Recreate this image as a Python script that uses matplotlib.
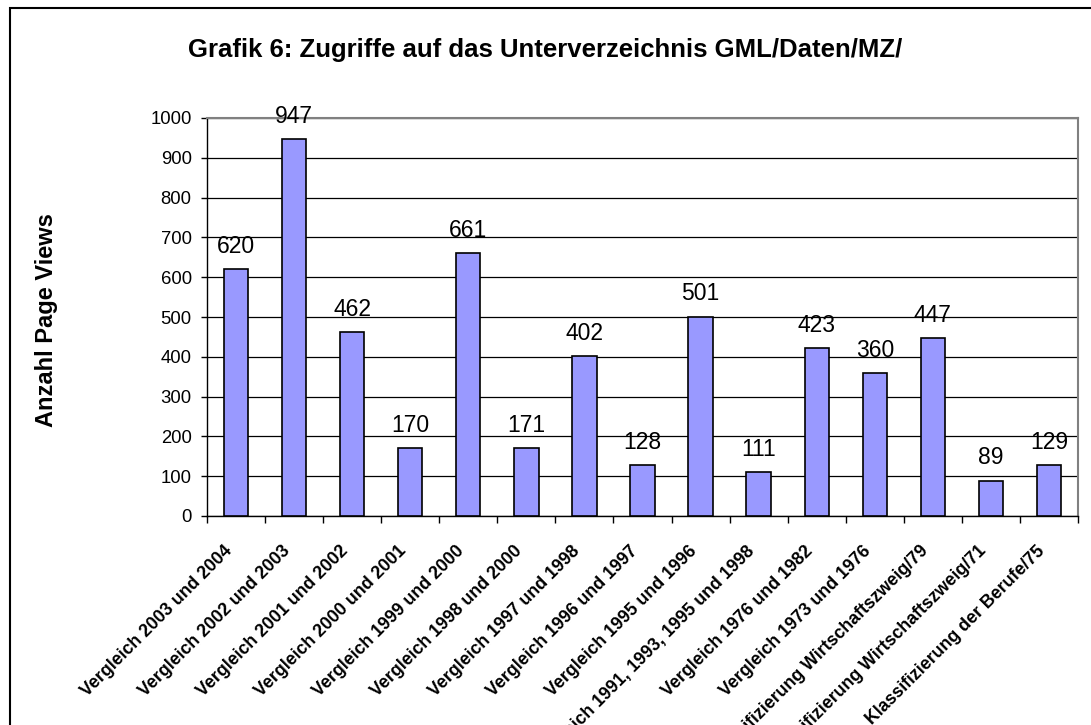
import matplotlib
matplotlib.use('Agg')
import matplotlib.pyplot as plt
from matplotlib.patches import Rectangle

plt.rcParams['font.family'] = ['Liberation Sans', 'DejaVu Sans']

# Data
categories = [
    'Vergleich 2003 und 2004',
    'Vergleich 2002 und 2003',
    'Vergleich 2001 und 2002',
    'Vergleich 2000 und 2001',
    'Vergleich 1999 und 2000',
    'Vergleich 1998 und 2000',
    'Vergleich 1997 und 1998',
    'Vergleich 1996 und 1997',
    'Vergleich 1995 und 1996',
    'Vergleich 1991, 1993, 1995 und 1998',
    'Vergleich 1976 und 1982',
    'Vergleich 1973 und 1976',
    'Klassifizierung Wirtschaftszweig/79',
    'Klassifizierung Wirtschaftszweig/71',
    'Klassifizierung der Berufe/75',
]
page_views = [620, 947, 462, 170, 661, 171, 402, 128, 501, 111, 423, 360, 447, 89, 129]
y_ticks = list(range(0, 1001, 100))

W, H = 1091, 725
fig = plt.figure(figsize=(W / 100, H / 100), dpi=100)

# outer chart frame (cut off at right/bottom as in the original)
fig.patches.append(Rectangle((10 / W, -0.1), 1.2, 1.1 - 8 / H, transform=fig.transFigure,
                             fill=False, edgecolor='black', linewidth=1.5))

ax = fig.add_axes([207 / W, 1 - 516 / H, (1078 - 207) / W, (516 - 118) / H])

x = list(range(len(categories)))
ax.bar(x, page_views, width=0.42, color='#9999FF', edgecolor='black', linewidth=1.2, zorder=3)

for xi, v in zip(x, page_views):
    ax.annotate(str(v), (xi, v), xytext=(0, 8), textcoords='offset points',
                ha='center', va='bottom', fontsize=16.5, zorder=4)

ax.set_xlim(-0.5, len(categories) - 0.5)
ax.set_ylim(0, 1000)
ax.set_yticks(y_ticks)
ax.tick_params(axis='y', labelsize=13.3, length=4, width=1, pad=7)
ax.yaxis.grid(True, color='black', linewidth=0.9, zorder=0)
ax.set_axisbelow(True)

# ticks between categories; labels end slightly left of the category centre
ax.set_xticks([i - 0.5 for i in range(len(categories) + 1)])
ax.set_xticklabels([])
ax.set_xticks([i - 0.22 for i in x], minor=True)
ax.set_xticklabels(categories, minor=True, rotation=45, ha='right', rotation_mode='anchor',
                   fontsize=12.8, fontweight='bold')
ax.tick_params(axis='x', which='major', length=5, width=1)
ax.tick_params(axis='x', which='minor', length=0, pad=19)

for side in ['top', 'right']:
    ax.spines[side].set_color('#808080')
    ax.spines[side].set_linewidth(1.5)
for side in ['left', 'bottom']:
    ax.spines[side].set_color('black')
    ax.spines[side].set_linewidth(1)

fig.text(0.5, 1 - 50 / H, 'Grafik 6: Zugriffe auf das Unterverzeichnis GML/Daten/MZ/',
         ha='center', va='center', fontsize=18.5, fontweight='bold')
fig.text(47 / W, 1 - 320 / H, 'Anzahl Page Views', rotation=90, ha='center', va='center',
         fontsize=17, fontweight='bold')

fig.savefig('out.png', dpi=100)
